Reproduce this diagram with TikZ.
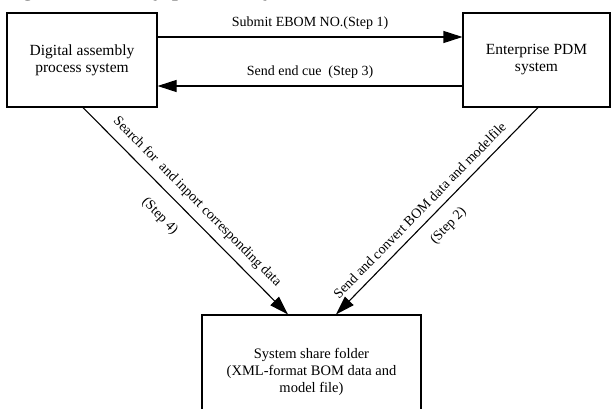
\documentclass[tikz,border=0pt]{standalone}
\usepackage{fontspec}
\setmainfont{Liberation Serif}
\usetikzlibrary{arrows.meta}
\begin{document}
\begin{tikzpicture}[x=1pt,y=-1pt,
  box/.style={draw, line width=1.1pt, align=center, font=\fontsize{15.5}{17}\selectfont, inner sep=0pt},
  lbl/.style={font=\fontsize{14}{16}\selectfont, inner sep=0pt},
  flow/.style={line width=1.1pt, -{Triangle[length=19pt,width=12pt]}}]
\useasboundingbox (0,0) rectangle (611,409);
\begin{scope}
\clip (0,0) rectangle (611,409);
\node[anchor=base west, font=\fontsize{25}{30}\selectfont, inner sep=0pt, outer sep=0pt] (cap) at (-3,-4) {Digital assembly process system};
\end{scope}
\node[box, minimum width=150pt, minimum height=94pt] (das) at (82,60) {Digital assembly\\process system};
\node[box, minimum width=147pt, minimum height=94pt] (pdm) at (536.5,60) {Enterprise PDM\\system};
\begin{scope}
\clip (0,0) rectangle (611,409);
\node[box, font=\fontsize{14.5}{17}\selectfont, minimum width=219pt, minimum height=114pt] (share) at (311.5,372) {System share folder\\(XML-format BOM data and\\model file)};
\end{scope}
\draw[flow] ([yshift=23pt]das.east) -- ([yshift=23pt]pdm.west)
  node[lbl, midway, above=7pt] (l1) {Submit EBOM NO.(Step 1)};
\draw[flow] ([yshift=-26pt]pdm.west) -- ([yshift=-26pt]das.east)
  node[lbl, midway, above=6.5pt] (l3) {Send end cue\ \ (Step 3)};
\draw[flow] ([xshift=1pt]das.south) -- ([xshift=-23.5pt]share.north)
  node[lbl, pos=0.506, sloped, above=7.5pt] (l4a) {Search for\ \ and inport corresponding data}
  node[lbl, pos=0.45, sloped, below=15pt] (l4b) {(Step 4)};
\draw[flow] ([xshift=1.5pt]pdm.south) -- ([xshift=24.5pt]share.north)
  node[lbl, pos=0.54, sloped, above=7.5pt] (l2a) {Send and convert BOM data and modelfile}
  node[lbl, pos=0.51, sloped, below=12pt] (l2b) {(Step 2)};
\end{tikzpicture}
\end{document}
